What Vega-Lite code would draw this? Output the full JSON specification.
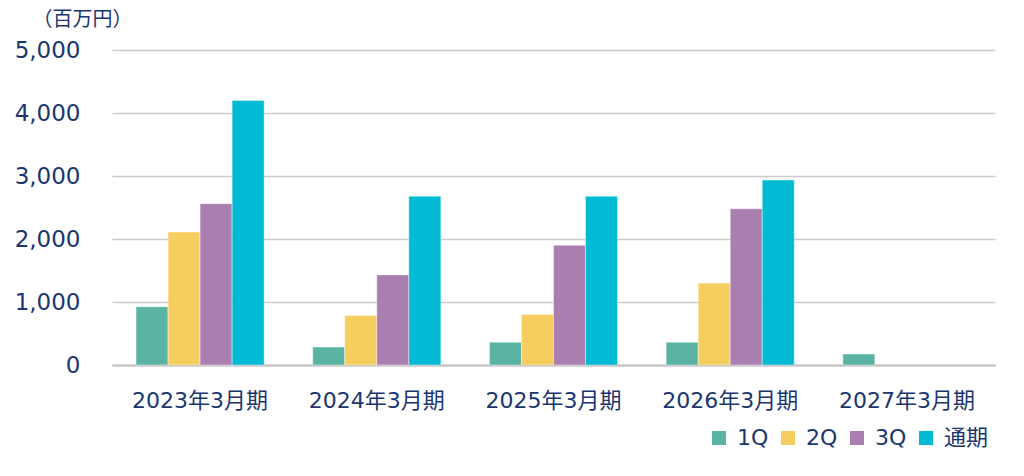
{
  "$schema": "https://vega.github.io/schema/vega-lite/v6.json",
  "width": 883,
  "height": 315,
  "autosize": {"type": "none"},
  "padding": {"left": 112, "top": 50, "right": 29, "bottom": 111},
  "background": "#ffffff",
  "data": {
    "values": [
      {"period": "2023年3月期", "quarter": "1Q", "value": 925},
      {"period": "2023年3月期", "quarter": "2Q", "value": 2110},
      {"period": "2023年3月期", "quarter": "3Q", "value": 2560},
      {"period": "2023年3月期", "quarter": "通期", "value": 4200},
      {"period": "2024年3月期", "quarter": "1Q", "value": 285},
      {"period": "2024年3月期", "quarter": "2Q", "value": 785},
      {"period": "2024年3月期", "quarter": "3Q", "value": 1430},
      {"period": "2024年3月期", "quarter": "通期", "value": 2680},
      {"period": "2025年3月期", "quarter": "1Q", "value": 360},
      {"period": "2025年3月期", "quarter": "2Q", "value": 800},
      {"period": "2025年3月期", "quarter": "3Q", "value": 1900},
      {"period": "2025年3月期", "quarter": "通期", "value": 2680},
      {"period": "2026年3月期", "quarter": "1Q", "value": 360},
      {"period": "2026年3月期", "quarter": "2Q", "value": 1300},
      {"period": "2026年3月期", "quarter": "3Q", "value": 2480},
      {"period": "2026年3月期", "quarter": "通期", "value": 2935},
      {"period": "2027年3月期", "quarter": "1Q", "value": 175}
    ]
  },
  "mark": {"type": "bar", "stroke": "#ffffff", "strokeWidth": 0.6, "strokeOpacity": 0.7},
  "encoding": {
    "x": {
      "field": "period",
      "type": "nominal",
      "sort": null,
      "scale": {"paddingInner": 0.275, "paddingOuter": 0.136},
      "axis": {
        "title": null,
        "labelAngle": 0,
        "ticks": false,
        "domain": true,
        "domainColor": "#bfbfbf",
        "domainWidth": 2,
        "labelPadding": 25,
        "labelFontSize": 22,
        "labelColor": "#1A3670",
        "labelFont": "DejaVu Sans, Noto Sans CJK JP"
      }
    },
    "xOffset": {
      "field": "quarter",
      "type": "nominal",
      "scale": {"domain": ["1Q", "2Q", "3Q", "通期"], "paddingInner": 0}
    },
    "y": {
      "field": "value",
      "type": "quantitative",
      "scale": {"domain": [0, 5000], "nice": false},
      "axis": {
        "values": [0, 1000, 2000, 3000, 4000, 5000],
        "format": ",d",
        "title": "（百万円）",
        "titleAngle": 0,
        "titleAlign": "left",
        "titleBaseline": "middle",
        "titleX": -80,
        "titleY": -31,
        "titleFontSize": 20,
        "titleFontWeight": "normal",
        "titleColor": "#1A3670",
        "titleFont": "Noto Sans CJK JP",
        "ticks": false,
        "domain": false,
        "labelPadding": 32,
        "labelFontSize": 23,
        "labelColor": "#1A3670",
        "labelFont": "DejaVu Sans",
        "gridColor": "#cccccc",
        "gridWidth": 1.4
      }
    },
    "color": {
      "field": "quarter",
      "type": "nominal",
      "scale": {
        "domain": ["1Q", "2Q", "3Q", "通期"],
        "range": ["#5BB4A3", "#F6CD5F", "#A97FB0", "#00BBD3"]
      },
      "legend": {
        "title": null,
        "orient": "none",
        "direction": "horizontal",
        "legendX": 596,
        "legendY": 377,
        "symbolType": "square",
        "symbolSize": 196,
        "symbolStrokeWidth": 0,
        "labelFontSize": 22,
        "labelColor": "#1A3670",
        "labelFont": "DejaVu Sans, Noto Sans CJK JP",
        "labelOffset": 7,
        "columnPadding": 8
      }
    }
  },
  "config": {
    "view": {"stroke": null}
  }
}
